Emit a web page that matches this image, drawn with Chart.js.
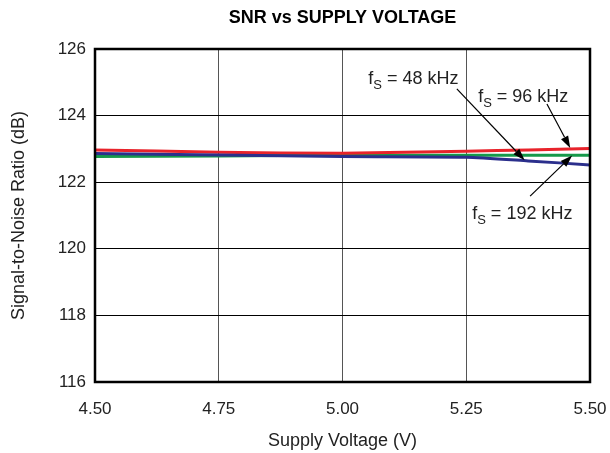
<!DOCTYPE html>
<html>
<head>
<meta charset="utf-8">
<script src="https://cdn.jsdelivr.net/npm/chart.js@4.4.1/dist/chart.umd.min.js"></script>
<style>
  html, body { margin: 0; padding: 0; background: #fff; }
</style>
</head>
<body>
<canvas id="snrChart" width="610" height="453"></canvas>
<script>
// supply voltage (V)
const voltage = [4.5, 4.75, 5.0, 5.25, 5.375, 5.5];
// SNR (dB) per sample rate
const snr48k = [122.86, 122.82, 122.77, 122.75, 122.64, 122.52];
const snr96k = [122.97, 122.9, 122.87, 122.93, 122.97, 123.01];
const snr192k = [122.77, 122.79, 122.81, 122.81, 122.81, 122.81];

const xTicks = [4.5, 4.75, 5.0, 5.25, 5.5];
const yTicks = [116, 118, 120, 122, 124, 126];

const FONT = "'Liberation Sans', Arial, Helvetica, sans-serif";

// callouts: label anchor + arrow from/to, in data units
const callouts = [
  { rate: "48 kHz",  text: [5.052, 124.95], from: [5.231, 124.80], to: [5.368, 122.66] },
  { rate: "96 kHz",  text: [5.274, 124.41], from: [5.413, 124.35], to: [5.46, 123.03] },
  { rate: "192 kHz", text: [5.262, 120.9],  from: [5.379, 121.58], to: [5.464, 122.80] }
];

const toPts = ys => voltage.map((v, i) => ({ x: v, y: ys[i] }));

const decorPlugin = {
  id: "decor",
  afterDraw(chart) {
    const { ctx, chartArea: a, scales: { x, y } } = chart;
    ctx.save();
    // frame
    ctx.strokeStyle = "#000";
    ctx.lineWidth = 2.5;
    ctx.strokeRect(a.left, a.top, a.right - a.left, a.bottom - a.top);

    // title
    ctx.fillStyle = "#000";
    ctx.font = "bold 18px " + FONT;
    ctx.textAlign = "center";
    ctx.textBaseline = "middle";
    ctx.fillText("SNR vs SUPPLY VOLTAGE", (a.left + a.right) / 2, 18);

    // callouts
    ctx.textAlign = "left";
    ctx.textBaseline = "alphabetic";
    ctx.strokeStyle = "#000";
    ctx.lineWidth = 1.2;
    callouts.forEach(c => {
      ctx.fillStyle = "#222";
      let tx = x.getPixelForValue(c.text[0]);
      const ty = y.getPixelForValue(c.text[1]);
      ctx.font = "18px " + FONT;
      ctx.fillText("f", tx, ty);
      tx += ctx.measureText("f").width;
      ctx.font = "13px " + FONT;
      ctx.fillText("S", tx, ty + 5);
      tx += ctx.measureText("S").width;
      ctx.font = "18px " + FONT;
      ctx.fillText(" = " + c.rate, tx, ty);

      const x1 = x.getPixelForValue(c.from[0]), y1 = y.getPixelForValue(c.from[1]);
      const x2 = x.getPixelForValue(c.to[0]), y2 = y.getPixelForValue(c.to[1]);
      const ang = Math.atan2(y2 - y1, x2 - x1);
      const len = 12, hw = 4;
      ctx.beginPath();
      ctx.moveTo(x1, y1);
      ctx.lineTo(x2 - Math.cos(ang) * len, y2 - Math.sin(ang) * len);
      ctx.stroke();
      ctx.beginPath();
      ctx.moveTo(x2, y2);
      ctx.lineTo(x2 - Math.cos(ang) * len - Math.sin(ang) * hw, y2 - Math.sin(ang) * len + Math.cos(ang) * hw);
      ctx.lineTo(x2 - Math.cos(ang) * len + Math.sin(ang) * hw, y2 - Math.sin(ang) * len - Math.cos(ang) * hw);
      ctx.closePath();
      ctx.fillStyle = "#000";
      ctx.fill();
    });
    ctx.restore();
  }
};

new Chart(document.getElementById("snrChart"), {
  type: "line",
  data: {
    datasets: [
      { label: "fS = 48 kHz", data: toPts(snr48k), borderColor: "#2b2f8c", borderWidth: 3 },
      { label: "fS = 96 kHz", data: toPts(snr96k), borderColor: "#e8232b", borderWidth: 3 },
      { label: "fS = 192 kHz", data: toPts(snr192k), borderColor: "#16994a", borderWidth: 3 }
    ]
  },
  options: {
    responsive: false,
    animation: false,
    layout: { padding: { left: 0, right: 20, top: 49, bottom: 0 } },
    elements: { point: { radius: 0 }, line: { tension: 0.2 } },
    plugins: {
      legend: { display: false },
      tooltip: { enabled: false }
    },
    scales: {
      x: {
        type: "linear",
        min: 4.5,
        max: 5.5,
        afterFit: s => { s.height = 71; s.paddingLeft = 0; s.paddingRight = 0; },
        afterBuildTicks: s => { s.ticks = xTicks.map(v => ({ value: v })); },
        grid: { color: "#555", lineWidth: 1, drawTicks: false },
        border: { display: false },
        ticks: {
          padding: 17,
          color: "#222",
          font: { family: FONT, size: 17 },
          maxRotation: 0,
          callback: v => v.toFixed(2)
        },
        title: {
          display: true,
          text: "Supply Voltage (V)",
          color: "#222",
          font: { family: FONT, size: 18 },
          padding: { top: 0, bottom: 1 }
        }
      },
      y: {
        min: 116,
        max: 126,
        afterFit: s => { s.width = 95; },
        afterBuildTicks: s => { s.ticks = yTicks.map(v => ({ value: v })); },
        grid: { color: "#000", lineWidth: 1, drawTicks: false },
        border: { display: false },
        ticks: {
          padding: 9,
          color: "#222",
          font: { family: FONT, size: 17 }
        },
        title: {
          display: true,
          text: "Signal-to-Noise Ratio (dB)",
          color: "#222",
          font: { family: FONT, size: 18 },
          padding: { top: 8, bottom: 0 }
        }
      }
    }
  },
  plugins: [decorPlugin]
});
</script>
</body>
</html>
